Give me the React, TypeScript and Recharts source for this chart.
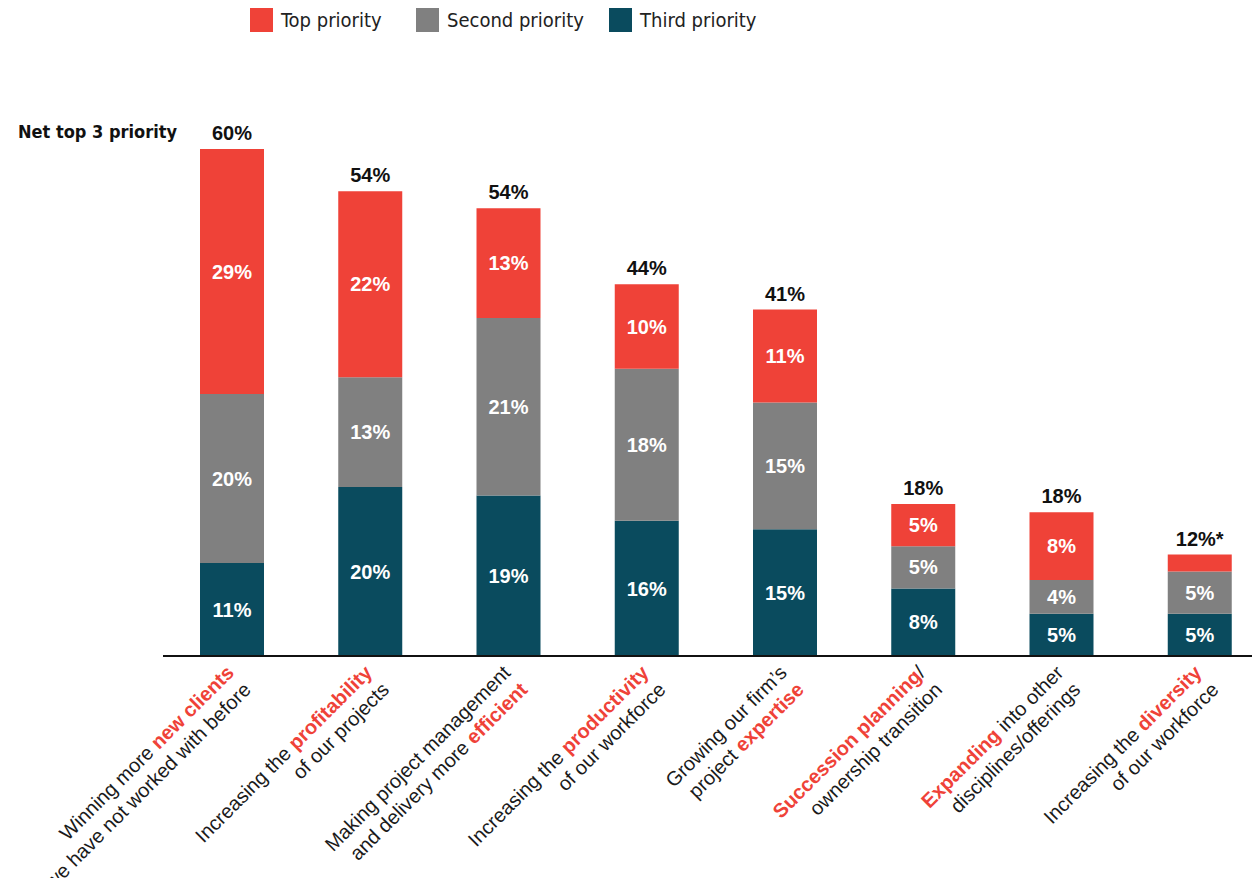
import { BarChart, Bar, XAxis, YAxis, LabelList } from "recharts";

const categories = [
  "New clients",
  "Profitability",
  "Efficient",
  "Productivity",
  "Expertise",
  "Succession",
  "Expanding",
  "Diversity",
];

const thirdPriority = [11, 20, 19, 16, 15, 8, 5, 5];
const secondPriority = [20, 13, 21, 18, 15, 5, 4, 5];
const topPriority = [29, 22, 13, 10, 11, 5, 8, 2];
const netTotals = ["60%", "54%", "54%", "44%", "41%", "18%", "18%", "12%*"];

type Part = { t: string; hl?: boolean };

const tickLines: Part[][][] = [
  [[{ t: "Winning more " }, { t: "new clients", hl: true }], [{ t: "we have not worked with before" }]],
  [[{ t: "Increasing the " }, { t: "profitability", hl: true }], [{ t: "of our projects" }]],
  [[{ t: "Making project management" }], [{ t: "and delivery more " }, { t: "efficient", hl: true }]],
  [[{ t: "Increasing the " }, { t: "productivity", hl: true }], [{ t: "of our workforce" }]],
  [[{ t: "Growing our firm’s" }], [{ t: "project " }, { t: "expertise", hl: true }]],
  [[{ t: "Succession planning", hl: true }, { t: "/" }], [{ t: "ownership transition" }]],
  [[{ t: "Expanding", hl: true }, { t: " into other" }], [{ t: "disciplines/offerings" }]],
  [[{ t: "Increasing the " }, { t: "diversity", hl: true }], [{ t: "of our workforce" }]],
];

const RED = "#EF4238";
const GRAY = "#808080";
const TEAL = "#0A4B5E";

const pct = (v: number) => `${v}%`;

const rows = categories.map((name, i) => ({
  name,
  third: thirdPriority[i],
  second: secondPriority[i],
  top: topPriority[i],
  topLabel: topPriority[i] >= 3 ? pct(topPriority[i]) : "",
  total: netTotals[i],
}));

const labelFont = "'Liberation Sans', Arial, sans-serif";
const narrowFont =
  "'Liberation Sans Narrow', 'Arial Narrow', 'DejaVu Sans Condensed', sans-serif";

const CategoryTick = (props: any) => {
  const { x, y, index } = props;
  const lines = tickLines[index] || [];
  return (
    <g transform={`translate(${x + 3},${y + 10}) rotate(-45)`}>
      {lines.map((line, li) => (
        <text
          key={li}
          x={0}
          y={li * 24}
          textAnchor="end"
          fontSize={20}
          fontFamily={labelFont}
          fill="#1a1a1a"
        >
          {line.map((p, pi) => (
            <tspan
              key={pi}
              fill={p.hl ? RED : "#1a1a1a"}
              fontWeight={p.hl ? 700 : 400}
            >
              {p.t}
            </tspan>
          ))}
        </text>
      ))}
    </g>
  );
};

const legendItems = [
  { label: "Top priority", color: RED, left: 250, textLeft: 281 },
  { label: "Second priority", color: GRAY, left: 416, textLeft: 447 },
  { label: "Third priority", color: TEAL, left: 609, textLeft: 640 },
];

const App = () => {
  return (
    <div
      style={{
        position: "relative",
        width: 1260,
        height: 886,
        margin: -8,
        overflow: "hidden",
        background: "#fff",
      }}
    >
      {/* Legend */}
      {legendItems.map((it) => (
        <div key={it.label}>
          <div
            style={{
              position: "absolute",
              left: it.left,
              top: 8,
              width: 23,
              height: 24,
              background: it.color,
            }}
          />
          <div
            style={{
              position: "absolute",
              left: it.textLeft,
              top: 7,
              fontFamily: narrowFont,
              fontSize: 20,
              color: "#222",
              lineHeight: "26px",
              whiteSpace: "nowrap",
            }}
          >
            {it.label}
          </div>
        </div>
      ))}

      <div
        style={{
          position: "absolute",
          left: 18,
          top: 121,
          fontFamily: narrowFont,
          fontWeight: 700,
          fontSize: 18,
          color: "#111",
          whiteSpace: "nowrap",
        }}
      >
        Net top 3 priority
      </div>

      <div style={{ position: "absolute", left: 0, top: 0 }}>
        <BarChart
          width={1270}
          height={886}
          data={rows}
          margin={{ top: 149, right: 1, bottom: 200, left: 163 }}
          barSize={64}
        >
          <YAxis hide domain={[0, 60]} allowDataOverflow />
          <XAxis
            dataKey="name"
            interval={0}
            height={30}
            tickLine={false}
            axisLine={{ stroke: "#111", strokeWidth: 2 }}
            tick={<CategoryTick />}
          />
          <Bar dataKey="third" stackId="a" fill={TEAL} isAnimationActive={false}>
            <LabelList
              dataKey="third"
              position="center"
              formatter={(v: any) => pct(v)}
              fill="#fff"
              fontSize={20}
              fontWeight={700}
              fontFamily={labelFont}
            />
          </Bar>
          <Bar dataKey="second" stackId="a" fill={GRAY} isAnimationActive={false}>
            <LabelList
              dataKey="second"
              position="center"
              formatter={(v: any) => pct(v)}
              fill="#fff"
              fontSize={20}
              fontWeight={700}
              fontFamily={labelFont}
            />
          </Bar>
          <Bar dataKey="top" stackId="a" fill={RED} isAnimationActive={false}>
            <LabelList
              dataKey="topLabel"
              position="center"
              fill="#fff"
              fontSize={20}
              fontWeight={700}
              fontFamily={labelFont}
            />
            <LabelList
              dataKey="total"
              position="top"
              offset={9}
              fill="#111"
              fontSize={20}
              fontWeight={700}
              fontFamily={labelFont}
            />
          </Bar>
        </BarChart>
      </div>
    </div>
  );
};

export default App;
